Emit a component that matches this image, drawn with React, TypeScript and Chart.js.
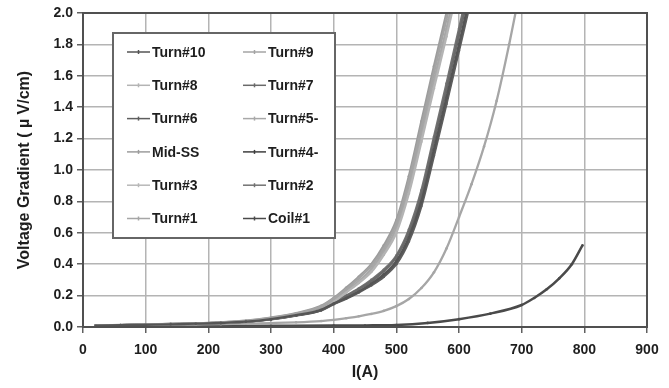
import React, { useEffect, useRef } from "react";
import { Chart, registerables } from "chart.js";

Chart.register(...registerables);

// Currents (A) at which the turn voltages were sampled
const turnCurrents = [20, 60, 100, 140, 180, 220, 260, 300, 340, 380, 400, 420, 440, 460, 480, 500, 520, 540, 560, 580, 600, 620, 640, 660, 680, 700];
const coilCurrents = [20, 100, 200, 300, 400, 450, 500, 550, 600, 650, 700, 720, 740, 760, 780, 797];

// Voltage gradient (µV/cm)
const turn10 = [0.008, 0.011, 0.014, 0.017, 0.021, 0.026, 0.034, 0.05, 0.075, 0.11, 0.15, 0.185, 0.225, 0.275, 0.335, 0.42, 0.57, 0.8, 1.13, 1.46, 1.8, 2.15];
const turn9 = [0.009, 0.012, 0.016, 0.019, 0.023, 0.029, 0.039, 0.058, 0.085, 0.13, 0.18, 0.24, 0.31, 0.39, 0.5, 0.66, 0.93, 1.27, 1.62, 1.96, 2.3];
const turn8 = [0.008, 0.011, 0.014, 0.017, 0.021, 0.027, 0.035, 0.052, 0.077, 0.115, 0.16, 0.22, 0.28, 0.35, 0.46, 0.6, 0.85, 1.18, 1.52, 1.85, 2.2];
const turn7 = [0.008, 0.012, 0.015, 0.018, 0.022, 0.027, 0.035, 0.052, 0.078, 0.115, 0.155, 0.195, 0.24, 0.29, 0.355, 0.445, 0.6, 0.84, 1.18, 1.51, 1.86, 2.2];
const turn6 = [0.007, 0.011, 0.014, 0.017, 0.02, 0.025, 0.033, 0.048, 0.072, 0.105, 0.145, 0.18, 0.22, 0.265, 0.32, 0.4, 0.545, 0.77, 1.09, 1.42, 1.76, 2.1];
const turn5 = [0.008, 0.012, 0.015, 0.018, 0.022, 0.028, 0.037, 0.055, 0.08, 0.12, 0.17, 0.23, 0.29, 0.37, 0.48, 0.63, 0.89, 1.23, 1.57, 1.9, 2.25];
const midSS = [0.009, 0.013, 0.016, 0.02, 0.024, 0.03, 0.04, 0.06, 0.088, 0.135, 0.185, 0.25, 0.32, 0.4, 0.52, 0.68, 0.96, 1.31, 1.66, 2.0, 2.35];
const turn4 = [0.008, 0.011, 0.015, 0.018, 0.021, 0.026, 0.034, 0.05, 0.074, 0.108, 0.148, 0.185, 0.225, 0.27, 0.33, 0.41, 0.56, 0.79, 1.11, 1.44, 1.78, 2.12];
const turn3 = [0.008, 0.011, 0.015, 0.018, 0.022, 0.027, 0.036, 0.054, 0.079, 0.118, 0.165, 0.225, 0.285, 0.36, 0.47, 0.615, 0.87, 1.2, 1.55, 1.88, 2.22];
const turn2 = [0.009, 0.012, 0.015, 0.019, 0.023, 0.028, 0.036, 0.054, 0.08, 0.12, 0.16, 0.2, 0.245, 0.3, 0.365, 0.455, 0.62, 0.87, 1.21, 1.55, 1.9, 2.25];
const turn1 = [0.007, 0.01, 0.012, 0.014, 0.016, 0.018, 0.021, 0.025, 0.03, 0.038, 0.045, 0.056, 0.068, 0.083, 0.103, 0.133, 0.178, 0.248, 0.348, 0.5, 0.7, 0.91, 1.15, 1.44, 1.8, 2.2];
const coil1 = [0.005, 0.006, 0.007, 0.008, 0.009, 0.01, 0.013, 0.026, 0.05, 0.085, 0.14, 0.185, 0.24, 0.31, 0.4, 0.52];

const seriesLabels = ["Turn#10", "Turn#9", "Turn#8", "Turn#7", "Turn#6", "Turn#5-", "Mid-SS", "Turn#4-", "Turn#3", "Turn#2", "Turn#1", "Coil#1"];
const seriesValues = [turn10, turn9, turn8, turn7, turn6, turn5, midSS, turn4, turn3, turn2, turn1, coil1];
const seriesCurrents = [turnCurrents, turnCurrents, turnCurrents, turnCurrents, turnCurrents, turnCurrents, turnCurrents, turnCurrents, turnCurrents, turnCurrents, turnCurrents, coilCurrents];
const seriesColors = ["#555555", "#a4a4a4", "#b4b4b4", "#6a6a6a", "#5e5e5e", "#a8a8a8", "#9c9c9c", "#3e3e3e", "#b8b8b8", "#727272", "#a6a6a6", "#4a4a4a"];

const xTickMax = 900;
const yTickMax = 2.0;

const FONT = "'Liberation Sans', Arial, sans-serif";

const framePlugin = {
  id: "frameAndLegend",
  afterDraw(chart: any) {
    const { ctx, chartArea } = chart;
    const { left, top, right, bottom } = chartArea;
    ctx.save();
    ctx.strokeStyle = "#505050";
    ctx.lineWidth = 2;
    ctx.strokeRect(left, top, right - left, bottom - top);

    // legend box
    const lx = left + 30;
    const ly = top + 20;
    const lw = 222;
    const lh = 205;
    ctx.fillStyle = "#ffffff";
    ctx.fillRect(lx, ly, lw, lh);
    ctx.strokeStyle = "#666666";
    ctx.lineWidth = 2;
    ctx.strokeRect(lx, ly, lw, lh);

    ctx.font = `bold 14px ${FONT}`;
    ctx.textBaseline = "middle";
    ctx.textAlign = "left";
    chart.data.datasets.forEach((ds: any, i: number) => {
      const col = i % 2;
      const row = Math.floor(i / 2);
      const x0 = lx + (col === 0 ? 14 : 130);
      const y = ly + 19 + row * 33.3;
      ctx.strokeStyle = ds.borderColor;
      ctx.lineWidth = 1.5;
      ctx.beginPath();
      ctx.moveTo(x0, y);
      ctx.lineTo(x0 + 23, y);
      ctx.stroke();
      ctx.beginPath();
      ctx.moveTo(x0 + 11.5, y - 2);
      ctx.lineTo(x0 + 11.5, y + 2);
      ctx.stroke();
      ctx.fillStyle = "#1e1e1e";
      ctx.fillText(ds.label, x0 + 25, y + 1);
    });
    ctx.restore();
  },
};

export default function App() {
  const canvasRef = useRef<HTMLCanvasElement | null>(null);

  useEffect(() => {
    document.body.style.margin = "0";
    const canvas = canvasRef.current;
    if (!canvas) return;

    const datasets = seriesLabels.map((label, i) => ({
      label,
      data: seriesValues[i].map((v, j) => ({ x: seriesCurrents[i][j], y: v })),
      borderColor: seriesColors[i],
      backgroundColor: seriesColors[i],
      borderWidth: i === 11 ? 2.5 : 2.3,
      pointRadius: 1.3,
      pointBorderWidth: 0,
      pointBackgroundColor: seriesColors[i],
      cubicInterpolationMode: "monotone" as const,
      fill: false,
    }));

    const chart = new Chart(canvas, {
      type: "line",
      data: { datasets },
      options: {
        animation: false,
        responsive: false,
        devicePixelRatio: 1,
        parsing: false as any,
        layout: { padding: { left: 0, right: 22, top: 13, bottom: 0 } },
        plugins: {
          legend: { display: false },
          tooltip: { enabled: false },
        },
        scales: {
          x: {
            type: "linear",
            min: 0,
            max: xTickMax,
            ticks: {
              stepSize: 100,
              padding: 9,
              color: "#1e1e1e",
              font: { family: FONT, size: 14, weight: "bold" },
              maxRotation: 0,
            },
            grid: {
              color: "#b4b4b4",
              lineWidth: 1.5,
              tickLength: 6,
              tickColor: "#606060",
            },
            border: { display: false },
            title: {
              display: true,
              text: "I(A)",
              color: "#1e1e1e",
              font: { family: FONT, size: 16, weight: "bold" },
              padding: { top: 0, bottom: 6 },
            },
            afterFit: (s: any) => {
              s.height = 61;
              s.paddingLeft = 0;
              s.paddingRight = 0;
            },
          },
          y: {
            type: "linear",
            min: 0,
            max: yTickMax,
            ticks: {
              stepSize: 0.2,
              padding: 4,
              color: "#1e1e1e",
              font: { family: FONT, size: 14, weight: "bold" },
              callback: (v: any) => Number(v).toFixed(1),
            },
            grid: {
              color: "#b4b4b4",
              lineWidth: 1.5,
              tickLength: 6,
              tickColor: "#606060",
            },
            border: { display: false },
            title: {
              display: true,
              text: "Voltage Gradient ( µ V/cm)",
              color: "#1e1e1e",
              font: { family: FONT, size: 16, weight: "bold" },
              padding: { top: 15, bottom: 0 },
            },
            afterFit: (s: any) => {
              s.width = 83;
              s.paddingTop = 0;
              s.paddingBottom = 0;
            },
          },
        },
      },
      plugins: [framePlugin],
    });

    return () => chart.destroy();
  }, []);

  return (
    <div style={{ position: "absolute", left: 0, top: 0, width: 669, height: 388, background: "#ffffff" }}>
      <canvas ref={canvasRef} width={669} height={388} />
    </div>
  );
}
